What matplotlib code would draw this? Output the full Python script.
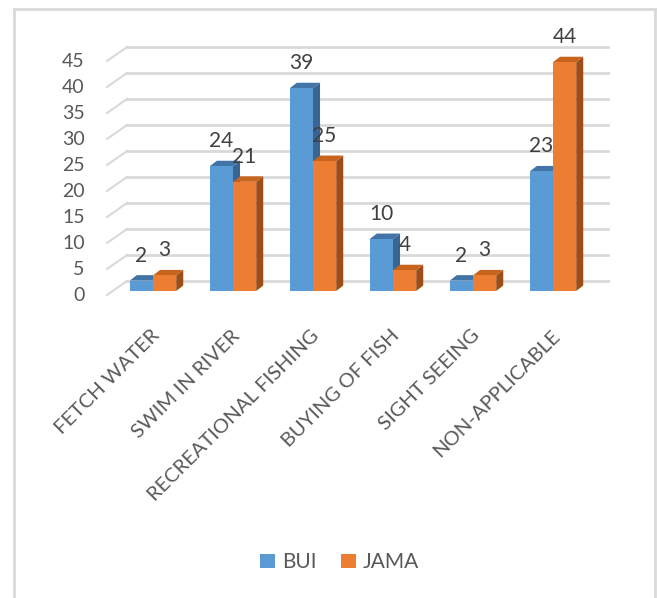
import matplotlib
matplotlib.use("Agg")
import matplotlib.pyplot as plt
from matplotlib.patches import Polygon, Patch
from matplotlib.lines import Line2D

# data
categories = ["FETCH WATER", "SWIM IN RIVER", "RECREATIONAL FISHING",
              "BUYING OF FISH", "SIGHT SEEING", "NON-APPLICABLE"]
bui = [2, 24, 39, 10, 2, 23]
jama = [3, 21, 25, 4, 3, 44]
yticks = [0, 5, 10, 15, 20, 25, 30, 35, 40, 45]

plt.rcParams['font.family'] = ['Lato', 'DejaVu Sans']

W, H = 657, 598
fig = plt.figure(figsize=(W / 100, H / 100), dpi=100)
ax = fig.add_axes([0, 0, 1, 1])
# 80 px per category, 5.2 px per unit, floor of bars at 291 px from top
ax.set_xlim(-153 / 80, (W - 153) / 80)
ax.set_ylim(-(H - 291) / 5.2, 291 / 5.2)
ax.axis('off')

grid_c = '#d9d9d9'
txt_c = '#595959'
w = 0.29          # bar width
dx, dy = 0.088, 1.05   # depth of the bars
bx, by = 0.25, 2.7     # depth of the wall
x_left, x_right = -0.575, 5.69

# back wall gridlines and the slanted side lines
for v in yticks:
    ax.plot([x_left + bx, x_right], [v - 0.77 + by, v - 0.77 + by], color=grid_c, lw=2, zorder=1)
    ax.plot([x_left, x_left + bx], [v - 0.77, v - 0.77 + by], color=grid_c, lw=1.5, zorder=1)
    ax.text(x_left - 0.28, v - 0.77, str(v), ha='right', va='center', fontsize=14, color=txt_c)

colors = {
    'BUI': ('#5b9bd5', '#4274a8', '#3a6592'),
    'JAMA': ('#ed7d31', '#c8631d', '#9e4d19'),
}

z = 2
for i in range(len(categories)):
    for name, vals, x0 in (('BUI', bui, i - w), ('JAMA', jama, i)):
        v = vals[i]
        front, top, side = colors[name]
        x1 = x0 + w
        ax.add_patch(Polygon([(x1, 0), (x1 + dx, dy), (x1 + dx, v + dy), (x1, v)],
                             closed=True, facecolor=side, edgecolor='none', zorder=z))
        ax.add_patch(Polygon([(x0, v), (x0 + dx, v + dy), (x1 + dx, v + dy), (x1, v)],
                             closed=True, facecolor=top, edgecolor='none', zorder=z))
        ax.bar(x0, v, width=w, align='edge', color=front, zorder=z + 0.5)
        ax.text(x0 + w / 2, v + 4.8, str(v), ha='center', va='center',
                fontsize=15, color='#404040', zorder=20)
        z += 1

for i, c in enumerate(categories):
    ax.text(i - 0.03, -6.9, c, rotation=45, rotation_mode='anchor', ha='right', va='top',
            fontsize=14.5, color=txt_c)

handles = [Patch(facecolor=colors['BUI'][0], label='BUI'),
           Patch(facecolor=colors['JAMA'][0], label='JAMA')]
fig.legend(handles=handles, loc='center', bbox_to_anchor=(0.517, 0.06), ncol=2, frameon=False,
           fontsize=15, labelcolor=txt_c, handlelength=0.7, handleheight=0.7,
           handletextpad=0.35, columnspacing=1.2)

# chart border
fx0, fx1, fy1 = 14 / W, 655 / W, 1 - 9 / H
for xs, ys in (([fx0, fx0], [0, fy1]), ([fx0, fx1], [fy1, fy1]), ([fx1, fx1], [0, fy1])):
    fig.add_artist(Line2D(xs, ys, color=grid_c, lw=2, transform=fig.transFigure))

fig.savefig('out.png', dpi=100)
